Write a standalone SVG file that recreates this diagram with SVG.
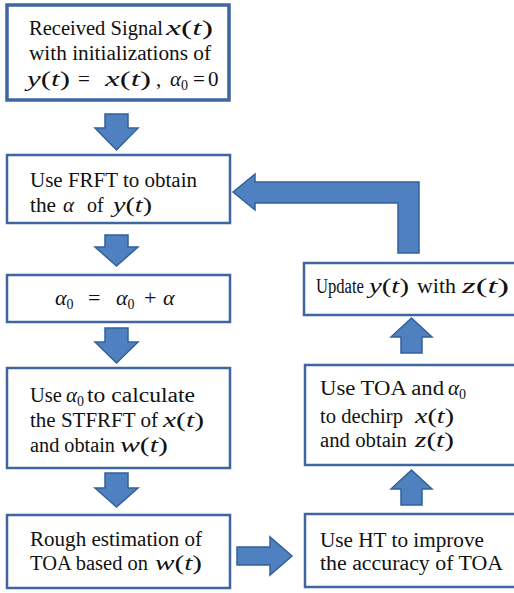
<svg xmlns="http://www.w3.org/2000/svg" width="514" height="593" viewBox="0 0 514 593">
<rect width="514" height="593" fill="#fff"/>
<g id="connectors" fill="#4f80c0" stroke="#35609a" stroke-width="1.5">
<polygon points="105,114 128,114 128,128 138,128 116.5,150 95,128 105,128"/>
<polygon points="105,235 128,235 128,247 138,247 116.5,266 95,247 105,247"/>
<polygon points="105,328 128,328 128,342 138,342 116.5,363 95,342 105,342"/>
<polygon points="105,473 128,473 128,488 138,488 116.5,507 95,488 105,488"/>
<polygon points="237,547 270,547 270,537 292,556 270,575 270,565 237,565"/>
<polygon points="401,353 422,353 422,337 432,337 411.5,318 391,337 401,337"/>
<polygon points="401,505 422,505 422,489 432,489 411.5,470 391,489 401,489"/>
<polygon points="233,192 255,174 255,182 419,182 419,253 398,253 398,203 255,203 255,210"/>
</g>
<g id="n1">
<rect x="7" y="5" width="222" height="95" fill="#fff" stroke="#3f66a0" stroke-width="3.5"/>
<text font-family="Liberation Serif" font-size="20" fill="#111" x="29" y="35" textLength="134" lengthAdjust="spacingAndGlyphs">Received Signal</text>
<text font-family="Liberation Serif" font-size="21" fill="#111" x="166" y="35" textLength="47" lengthAdjust="spacingAndGlyphs"><tspan font-style="italic">x</tspan>(<tspan font-style="italic">t</tspan>)</text>
<text font-family="Liberation Serif" font-size="20" fill="#111" x="29" y="60" textLength="182" lengthAdjust="spacingAndGlyphs">with initializations of</text>
<text font-family="Liberation Serif" font-size="21" fill="#111" x="27" y="86" textLength="43" lengthAdjust="spacingAndGlyphs"><tspan font-style="italic">y</tspan>(<tspan font-style="italic">t</tspan>)</text>
<text font-family="Liberation Serif" font-size="21" fill="#111" x="78" y="86">=</text>
<text font-family="Liberation Serif" font-size="21" fill="#111" x="105" y="86" textLength="46" lengthAdjust="spacingAndGlyphs"><tspan font-style="italic">x</tspan>(<tspan font-style="italic">t</tspan>)</text>
<text font-family="Liberation Serif" font-size="21" fill="#111" x="156" y="86">,</text>
<text font-family="Liberation Serif" font-size="21" fill="#111" x="170" y="86"><tspan font-style="italic">α</tspan><tspan font-size="14" dy="4">0</tspan></text>
<text font-family="Liberation Serif" font-size="21" fill="#111" x="193" y="86">=</text>
<text font-family="Liberation Serif" font-size="21" fill="#111" x="208" y="86">0</text>
</g>
<g id="n2">
<rect x="7" y="155" width="223" height="68" fill="#fff" stroke="#3f66a0" stroke-width="2.5"/>
<text font-family="Liberation Serif" font-size="20" fill="#111" x="30" y="187" textLength="167" lengthAdjust="spacingAndGlyphs">Use FRFT to obtain</text>
<text font-family="Liberation Serif" font-size="20" fill="#111" x="30" y="212" textLength="26" lengthAdjust="spacingAndGlyphs">the</text>
<text font-family="Liberation Serif" font-size="21" font-style="italic" fill="#111" x="63" y="212">α</text>
<text font-family="Liberation Serif" font-size="20" fill="#111" x="87" y="212">of</text>
<text font-family="Liberation Serif" font-size="21" fill="#111" x="113" y="212" textLength="39" lengthAdjust="spacingAndGlyphs"><tspan font-style="italic">y</tspan>(<tspan font-style="italic">t</tspan>)</text>
</g>
<g id="n3">
<rect x="7" y="275" width="223" height="47" fill="#fff" stroke="#3f66a0" stroke-width="2.5"/>
<text font-family="Liberation Serif" font-size="22" fill="#111" x="55" y="305"><tspan font-style="italic">α</tspan><tspan font-size="14" dy="4">0</tspan></text>
<text font-family="Liberation Serif" font-size="22" fill="#111" x="88" y="305">=</text>
<text font-family="Liberation Serif" font-size="22" fill="#111" x="116" y="305"><tspan font-style="italic">α</tspan><tspan font-size="14" dy="4">0</tspan></text>
<text font-family="Liberation Serif" font-size="22" fill="#111" x="144" y="305">+</text>
<text font-family="Liberation Serif" font-size="22" font-style="italic" fill="#111" x="163" y="305">α</text>
</g>
<g id="n4">
<rect x="7" y="368" width="223" height="100" fill="#fff" stroke="#3f66a0" stroke-width="2.5"/>
<text font-family="Liberation Serif" font-size="20" fill="#111" x="30" y="402" textLength="32" lengthAdjust="spacingAndGlyphs">Use</text>
<text font-family="Liberation Serif" font-size="21" fill="#111" x="66" y="402"><tspan font-style="italic">α</tspan><tspan font-size="14" dy="4">0</tspan></text>
<text font-family="Liberation Serif" font-size="20" fill="#111" x="87" y="402" textLength="108" lengthAdjust="spacingAndGlyphs">to calculate</text>
<text font-family="Liberation Serif" font-size="20" fill="#111" x="30" y="427" textLength="128" lengthAdjust="spacingAndGlyphs">the STFRFT of</text>
<text font-family="Liberation Serif" font-size="21" fill="#111" x="163" y="427" textLength="41" lengthAdjust="spacingAndGlyphs"><tspan font-style="italic">x</tspan>(<tspan font-style="italic">t</tspan>)</text>
<text font-family="Liberation Serif" font-size="20" fill="#111" x="30" y="452" textLength="85" lengthAdjust="spacingAndGlyphs">and obtain</text>
<text font-family="Liberation Serif" font-size="21" fill="#111" x="120" y="452" textLength="48" lengthAdjust="spacingAndGlyphs"><tspan font-style="italic">w</tspan>(<tspan font-style="italic">t</tspan>)</text>
</g>
<g id="n5">
<rect x="7" y="515" width="223" height="73" fill="#fff" stroke="#3f66a0" stroke-width="2.5"/>
<text font-family="Liberation Serif" font-size="20" fill="#111" x="30" y="546" textLength="172" lengthAdjust="spacingAndGlyphs">Rough estimation of</text>
<text font-family="Liberation Serif" font-size="20" fill="#111" x="30" y="570" textLength="118" lengthAdjust="spacingAndGlyphs">TOA based on</text>
<text font-family="Liberation Serif" font-size="21" fill="#111" x="155" y="570" textLength="47" lengthAdjust="spacingAndGlyphs"><tspan font-style="italic">w</tspan>(<tspan font-style="italic">t</tspan>)</text>
</g>
<g id="n6">
<rect x="304" y="263" width="214" height="52" fill="#fff" stroke="#3f66a0" stroke-width="2.5"/>
<text font-family="Liberation Serif" font-size="20" fill="#111" x="316" y="293" textLength="48" lengthAdjust="spacingAndGlyphs">Update</text>
<text font-family="Liberation Serif" font-size="21" fill="#111" x="369" y="293" textLength="40" lengthAdjust="spacingAndGlyphs"><tspan font-style="italic">y</tspan>(<tspan font-style="italic">t</tspan>)</text>
<text font-family="Liberation Serif" font-size="20" fill="#111" x="417" y="293" textLength="39" lengthAdjust="spacingAndGlyphs">with</text>
<text font-family="Liberation Serif" font-size="21" fill="#111" x="462" y="293" textLength="47" lengthAdjust="spacingAndGlyphs"><tspan font-style="italic">z</tspan>(<tspan font-style="italic">t</tspan>)</text>
</g>
<g id="n7">
<rect x="305" y="365" width="213" height="100" fill="#fff" stroke="#3f66a0" stroke-width="2.5"/>
<text font-family="Liberation Serif" font-size="20" fill="#111" x="320" y="395" textLength="124" lengthAdjust="spacingAndGlyphs">Use  TOA  and</text>
<text font-family="Liberation Serif" font-size="21" fill="#111" x="448" y="395"><tspan font-style="italic">α</tspan><tspan font-size="14" dy="4">0</tspan></text>
<text font-family="Liberation Serif" font-size="20" fill="#111" x="320" y="423" textLength="83" lengthAdjust="spacingAndGlyphs">to dechirp</text>
<text font-family="Liberation Serif" font-size="21" fill="#111" x="415" y="423" textLength="39" lengthAdjust="spacingAndGlyphs"><tspan font-style="italic">x</tspan>(<tspan font-style="italic">t</tspan>)</text>
<text font-family="Liberation Serif" font-size="20" fill="#111" x="320" y="447" textLength="87" lengthAdjust="spacingAndGlyphs">and obtain</text>
<text font-family="Liberation Serif" font-size="21" fill="#111" x="415" y="447" textLength="39" lengthAdjust="spacingAndGlyphs"><tspan font-style="italic">z</tspan>(<tspan font-style="italic">t</tspan>)</text>
</g>
<g id="n8">
<rect x="305" y="514" width="213" height="73" fill="#fff" stroke="#3f66a0" stroke-width="2.5"/>
<text font-family="Liberation Serif" font-size="20" fill="#111" x="320" y="547" textLength="164" lengthAdjust="spacingAndGlyphs">Use HT to improve</text>
<text font-family="Liberation Serif" font-size="20" fill="#111" x="320" y="570" textLength="183" lengthAdjust="spacingAndGlyphs">the accuracy of  TOA</text>
</g>
</svg>
